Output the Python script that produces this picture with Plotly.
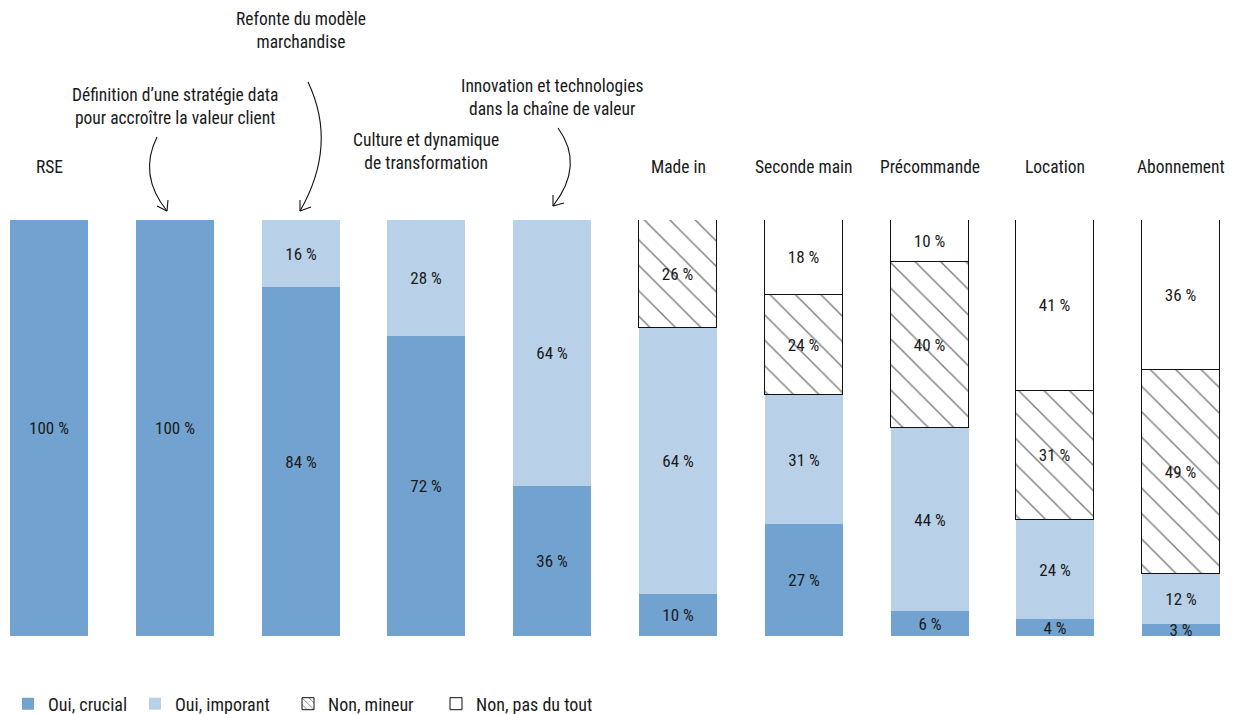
import plotly.graph_objects as go

categories = ["RSE", "Définition d’une stratégie data<br>pour accroître la valeur client",
              "Refonte du modèle<br>marchandise", "Culture et dynamique<br>de transformation",
              "Innovation et technologies<br>dans la chaîne de valeur",
              "Made in", "Seconde main", "Précommande", "Location", "Abonnement"]
crucial = [100, 100, 84, 72, 36, 10, 27, 6, 4, 3]
important = [0, 0, 16, 28, 64, 64, 31, 44, 24, 12]
mineur = [0, 0, 0, 0, 0, 26, 24, 40, 31, 49]
pas_du_tout = [0, 0, 0, 0, 0, 0, 18, 10, 41, 36]
series_names = ["Oui, crucial", "Oui, imporant", "Non, mineur", "Non, pas du tout"]

FONT = "Roboto Condensed, Liberation Sans Narrow, DejaVu Sans Condensed, Arial Narrow, sans-serif"
TXT = "#1a1a1a"
OFF = 8  # page body margin
W, H = 1236 - OFF, 740
T_PX = 220 - OFF
B_PX = H - (636 - OFF)
X0, STEP = 49.0 - OFF, 125.8

xs = list(range(len(categories)))
x_lo = -X0 / STEP
x_hi = x_lo + W / STEP
PH = H - T_PX - B_PX


def pp(xp, yp):
    """page pixel -> paper coords (for labels/decor only)"""
    return (xp - OFF) / W, (H - B_PX - (yp - OFF)) / PH


def lab(v):
    return [f"{x} %" if x > 0 else "" for x in v]


fig = go.Figure()
specs = [
    (crucial, "#72a2d0", None, 0),
    (important, "#b9d1e8", None, 0),
    (mineur, "#ffffff", "\\", 1),
    (pas_du_tout, "#ffffff", "", 1),
]
legend_ids = ["legend", "legend2", "legend3", "legend4"]
for name, lid, (vals, col, pat, lw) in zip(series_names, legend_ids, specs):
    marker = dict(color=col, line=dict(color="#111111", width=lw))
    if pat is not None:
        marker["pattern"] = dict(shape=pat, fgcolor="#000000", bgcolor="#ffffff",
                                 size=18, solidity=0.08, fillmode="overlay")
    fig.add_trace(go.Bar(
        x=xs, y=[v if v > 0 else None for v in vals], name=name, legend=lid,
        showlegend=pat is None,
        marker=marker, width=0.62,
        text=lab(vals), textposition="inside", insidetextanchor="middle",
        textangle=0, constraintext="none",
        insidetextfont=dict(family=FONT, size=17, color=TXT),
        hoverinfo="skip",
    ))
    if pat is not None:
        # legend-only entry with a denser hatch so the small swatch shows it
        fig.add_trace(go.Bar(
            x=[None], y=[None], name=name, legend=lid, showlegend=True,
            marker=dict(color="#ffffff", line=dict(color="#111111", width=1),
                        pattern=dict(shape=pat, fgcolor="#000000", bgcolor="#ffffff",
                                     size=6, solidity=0.2, fillmode="overlay")),
            hoverinfo="skip",
        ))

# category labels above bars
label_y = {0: 167, 1: 107, 2: 31, 3: 151, 4: 98}
for i, c in enumerate(categories):
    xp = 49 + STEP * i
    x, y = pp(xp, label_y.get(i, 167))
    fig.add_annotation(x=x, y=y, xref="paper", yref="paper", text=c, showarrow=False,
                       font=dict(family=FONT, size=17.5, color=TXT),
                       xanchor="center", yanchor="middle", align="center")


# curved arrows (decoration)
def curve(p0, p1, p2, head):
    a = pp(*p0); b = pp(*p1); c = pp(*p2)
    path = f"M {a[0]},{a[1]} Q {b[0]},{b[1]} {c[0]},{c[1]}"
    fig.add_shape(type="path", path=path, xref="paper", yref="paper",
                  line=dict(color="#111111", width=1.1))
    for hp in head:
        h = pp(*hp)
        fig.add_shape(type="line", x0=c[0], y0=c[1], x1=h[0], y1=h[1],
                      xref="paper", yref="paper", line=dict(color="#111111", width=1.1))


curve((157, 137), (138, 175), (167, 211), [(157, 206), (168, 200)])
curve((308, 82), (338, 145), (300, 211), [(300, 200), (311, 207)])
curve((558, 128), (585, 165), (553, 206), [(553, 195), (564, 203)])

# legends: one per series, positioned like the reference
legend_swatch_px = [22, 149, 302, 450]  # page x of each swatch's left edge
legend_layout = {}
for lid, sx in zip(legend_ids, legend_swatch_px):
    lx = max(0.0, (sx - OFF - 14) / W)
    legend_layout[lid] = dict(orientation="h", x=lx, xanchor="left",
                              y=pp(0, 704)[1], yanchor="middle",
                              font=dict(family=FONT, size=18, color=TXT),
                              itemwidth=30, bgcolor="rgba(0,0,0,0)")

fig.update_layout(
    width=W, height=H, barmode="stack", bargap=0,
    paper_bgcolor="white", plot_bgcolor="white",
    margin=dict(l=0, r=0, t=T_PX, b=B_PX, pad=0),
    font=dict(family=FONT, size=17, color=TXT),
    xaxis=dict(range=[x_lo, x_hi], visible=False, fixedrange=True),
    yaxis=dict(range=[0, 100], visible=False, fixedrange=True),
    showlegend=True,
    **legend_layout,
)

fig.write_html("out.html")
